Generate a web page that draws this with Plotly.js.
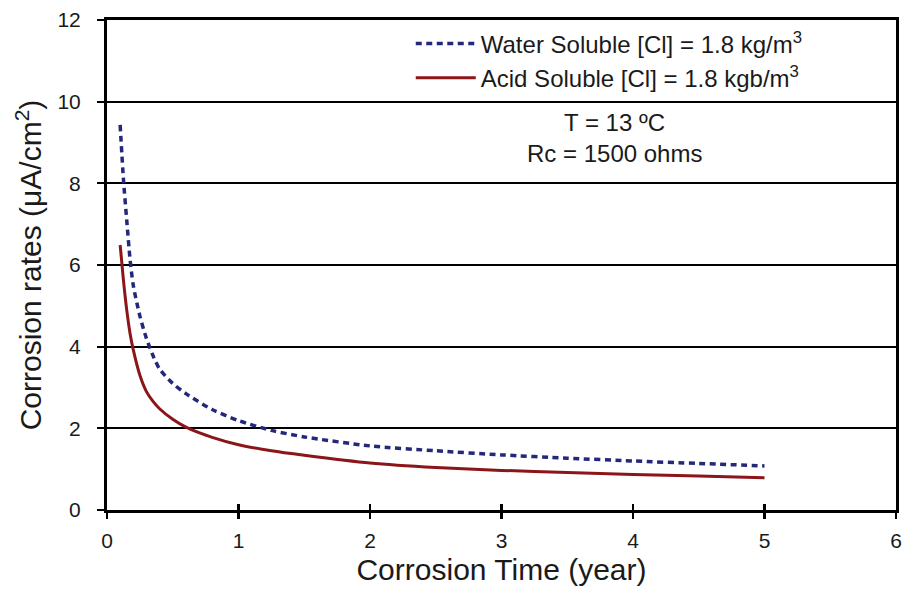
<!DOCTYPE html>
<html>
<head>
<meta charset="utf-8">
<script src="https://cdn.plot.ly/plotly-3.0.1.min.js"></script>
<style>html,body{margin:0;padding:0;background:#fff;}#chart{width:903px;height:590px;}</style>
</head>
<body>
<div id="chart"></div>
<script>
// Corrosion time (years)
const years = [0.1, 0.125, 0.15, 0.175, 0.2, 0.25, 0.3, 0.35, 0.4, 0.5, 0.6, 0.8, 1.0, 1.25, 1.5, 2, 2.5, 3, 3.5, 4, 4.5, 5];
// Water soluble [Cl] = 1.8 kg/m3
const waterSoluble = [9.43, 8.1, 7.1, 6.15, 5.5, 4.75, 4.2, 3.78, 3.45, 3.1, 2.85, 2.46, 2.19, 1.95, 1.79, 1.57, 1.45, 1.35, 1.27, 1.20, 1.14, 1.08];
// Acid soluble [Cl] = 1.8 kgb/m3
const acidSoluble = [6.49, 5.63, 4.9, 4.33, 3.92, 3.3, 2.9, 2.66, 2.48, 2.22, 2.03, 1.78, 1.6, 1.45, 1.34, 1.15, 1.04, 0.97, 0.92, 0.87, 0.83, 0.79];
const xTicks = [0, 1, 2, 3, 4, 5, 6];
const yTicks = [0, 2, 4, 6, 8, 10, 12];
const seriesNames = ['Water Soluble [Cl] = 1.8 kg/m<sup>3</sup>', 'Acid Soluble [Cl] = 1.8 kgb/m<sup>3</sup>'];
const noteLines = ['T = 13 ºC', 'Rc = 1500 ohms'];

const FONT = 'Liberation Sans, Arial, Helvetica, sans-serif';
const TXT = '#1a1a1a';

const traces = [
  {x: years, y: waterSoluble, name: seriesNames[0], mode: 'lines', type: 'scatter',
   line: {color: '#23287a', width: 3.5, dash: '6px,4.5px', shape: 'spline', smoothing: 0.7}},
  {x: years, y: acidSoluble, name: seriesNames[1], mode: 'lines', type: 'scatter',
   line: {color: '#8b1518', width: 3, shape: 'spline', smoothing: 0.7}},
  {x: [], y: [], xaxis: 'x2', showlegend: false, hoverinfo: 'skip'}
];

const layout = {
  width: 903, height: 590,
  margin: {l: 107, r: 7, t: 20, b: 80},
  paper_bgcolor: '#fff', plot_bgcolor: '#fff',
  font: {family: FONT, color: TXT, size: 24},
  showlegend: true,
  legend: {x: 0.385, y: 0.997, xanchor: 'left', yanchor: 'top', bgcolor: 'rgba(255,255,255,0)',
           borderwidth: 0, font: {family: FONT, size: 24, color: TXT}, itemwidth: 60},
  xaxis: {range: [0, 6], tickvals: xTicks, ticktext: xTicks.map(String), showgrid: false, zeroline: false,
          showline: true, linecolor: '#000', linewidth: 3, mirror: true,
          ticks: 'outside', ticklen: 6, tickwidth: 2.5, tickcolor: '#000', ticklabelstandoff: 4,
          tickfont: {size: 21, family: FONT, color: TXT},
          title: {text: 'Corrosion Time (year)', font: {size: 30, family: FONT, color: TXT}, standoff: 8}},
  xaxis2: {range: [0, 6], overlaying: 'x', anchor: 'y', side: 'bottom', tickvals: xTicks, showticklabels: false,
           showgrid: false, zeroline: false, showline: false,
           ticks: 'inside', ticklen: 6, tickwidth: 2.5, tickcolor: '#000'},
  yaxis: {range: [0, 12], tickvals: yTicks, ticktext: yTicks.map(String), showgrid: true, gridcolor: '#000', gridwidth: 1.8,
          zeroline: false, showline: true, linecolor: '#000', linewidth: 3, mirror: true,
          ticks: 'outside', ticklen: 7, tickwidth: 2, tickcolor: '#000', ticklabelstandoff: 12,
          tickfont: {size: 21, family: FONT, color: TXT},
          title: {text: 'Corrosion rates (μA/cm<sup>2</sup>)', font: {size: 30, family: FONT, color: TXT}, standoff: 7}},
  annotations: [
    {x: 3.86, y: 9.5, xref: 'x', yref: 'y', text: noteLines[0], showarrow: false, font: {size: 24, family: FONT, color: TXT}},
    {x: 3.86, y: 8.74, xref: 'x', yref: 'y', text: noteLines[1], showarrow: false, font: {size: 24, family: FONT, color: TXT}}
  ]
};

Plotly.newPlot('chart', traces, layout, {displayModeBar: false, staticPlot: true});
</script>
</body>
</html>
